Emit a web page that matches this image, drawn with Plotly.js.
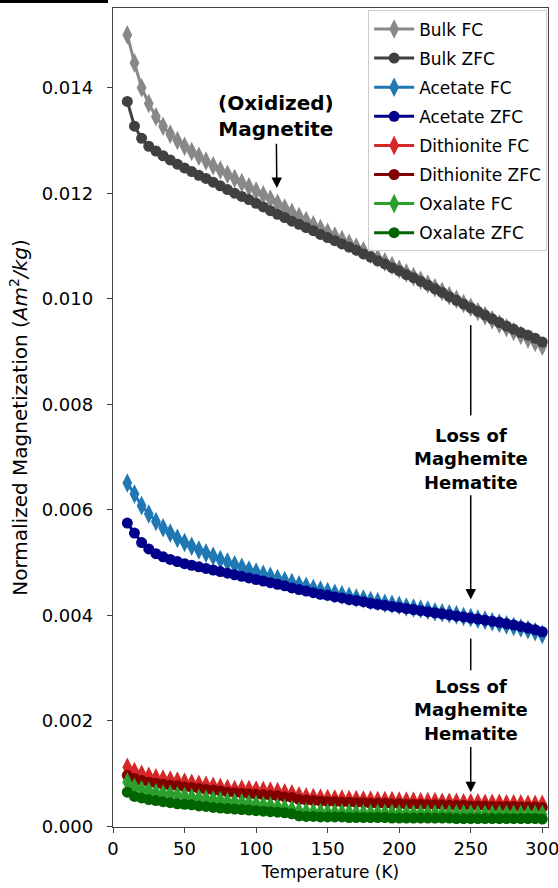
<!DOCTYPE html>
<html>
<head>
<meta charset="utf-8">
<script src="https://cdn.plot.ly/plotly-3.0.1.min.js"></script>
<style>html,body{margin:0;padding:0;background:#fff;}#chart{width:558px;height:888px;}</style>
</head>
<body>
<div id="chart"></div>
<script>
const temperature = [10,15,20,25,30,35,40,45,50,55,60,65,70,75,80,85,90,95,100,105,110,115,120,125,130,135,140,145,150,155,160,165,170,175,180,185,190,195,200,205,210,215,220,225,230,235,240,245,250,255,260,265,270,275,280,285,290,295,300];

const bulkFC = [0.01500,0.01447,0.01400,0.01370,0.01345,0.01327,0.01312,0.01300,0.01289,0.01279,0.01270,0.01261,0.01252,0.01244,0.01236,0.01228,0.01220,0.01212,0.01204,0.01197,0.01189,0.01181,0.01172,0.01164,0.01156,0.01148,0.01140,0.01133,0.01126,0.01119,0.01112,0.01105,0.01098,0.01091,0.01084,0.01077,0.01070,0.01063,0.01056,0.01049,0.01042,0.01035,0.01028,0.01021,0.01014,0.01006,0.00999,0.00991,0.00984,0.00976,0.00968,0.00960,0.00952,0.00945,0.00938,0.00931,0.00924,0.00917,0.00910];
const bulkZFC = [0.01374,0.01327,0.01304,0.01289,0.01280,0.01271,0.01263,0.01255,0.01248,0.01241,0.01234,0.01228,0.01221,0.01214,0.01207,0.01200,0.01194,0.01188,0.01181,0.01174,0.01167,0.01160,0.01154,0.01147,0.01141,0.01135,0.01129,0.01122,0.01116,0.01110,0.01104,0.01098,0.01092,0.01085,0.01079,0.01072,0.01066,0.01059,0.01053,0.01046,0.01040,0.01033,0.01026,0.01019,0.01012,0.01004,0.00997,0.00990,0.00983,0.00976,0.00969,0.00962,0.00955,0.00948,0.00942,0.00936,0.00931,0.00925,0.00918];
const acetateFC = [0.00651,0.00630,0.00608,0.00592,0.00578,0.00566,0.00556,0.00546,0.00538,0.00531,0.00524,0.00518,0.00512,0.00506,0.00501,0.00496,0.00491,0.00486,0.00482,0.00478,0.00474,0.00470,0.00466,0.00462,0.00458,0.00455,0.00451,0.00448,0.00445,0.00442,0.00439,0.00436,0.00433,0.00431,0.00428,0.00426,0.00423,0.00421,0.00419,0.00416,0.00414,0.00412,0.00410,0.00407,0.00405,0.00403,0.00401,0.00398,0.00396,0.00393,0.00391,0.00388,0.00385,0.00382,0.00379,0.00376,0.00373,0.00369,0.00364];
const acetateZFC = [0.00575,0.00556,0.00538,0.00526,0.00517,0.00511,0.00506,0.00502,0.00498,0.00495,0.00492,0.00489,0.00486,0.00483,0.00480,0.00477,0.00474,0.00471,0.00468,0.00465,0.00462,0.00459,0.00456,0.00452,0.00449,0.00446,0.00443,0.00440,0.00438,0.00435,0.00433,0.00430,0.00428,0.00426,0.00423,0.00421,0.00419,0.00417,0.00415,0.00413,0.00411,0.00409,0.00407,0.00405,0.00403,0.00401,0.00399,0.00397,0.00395,0.00393,0.00391,0.00389,0.00387,0.00384,0.00382,0.00379,0.00376,0.00373,0.00369];
const dithioniteFC = [0.00112,0.00104,0.00099,0.00095,0.00092,0.00090,0.00088,0.00086,0.00084,0.00082,0.00080,0.00078,0.00076,0.00074,0.00072,0.00070,0.00071,0.00070,0.00069,0.00068,0.00067,0.00066,0.00064,0.00062,0.00058,0.00056,0.00055,0.00054,0.00053,0.00052,0.00052,0.00051,0.00051,0.00050,0.00050,0.00049,0.00049,0.00049,0.00048,0.00048,0.00048,0.00047,0.00047,0.00047,0.00046,0.00046,0.00046,0.00045,0.00045,0.00045,0.00044,0.00044,0.00044,0.00043,0.00043,0.00043,0.00042,0.00042,0.00042];
const dithioniteZFC = [0.00097,0.00091,0.00087,0.00084,0.00082,0.00080,0.00078,0.00077,0.00075,0.00074,0.00072,0.00070,0.00069,0.00067,0.00065,0.00064,0.00063,0.00062,0.00061,0.00060,0.00059,0.00058,0.00056,0.00055,0.00051,0.00050,0.00049,0.00048,0.00047,0.00047,0.00046,0.00046,0.00045,0.00045,0.00044,0.00044,0.00044,0.00043,0.00043,0.00042,0.00042,0.00042,0.00041,0.00041,0.00041,0.00040,0.00040,0.00040,0.00039,0.00039,0.00039,0.00038,0.00038,0.00038,0.00038,0.00037,0.00037,0.00037,0.00036];
const oxalateFC = [0.00084,0.00074,0.00070,0.00067,0.00064,0.00062,0.00061,0.00059,0.00057,0.00055,0.00054,0.00052,0.00050,0.00049,0.00047,0.00046,0.00045,0.00043,0.00042,0.00040,0.00039,0.00037,0.00035,0.00032,0.00029,0.00028,0.00027,0.00027,0.00026,0.00026,0.00026,0.00026,0.00025,0.00025,0.00025,0.00025,0.00025,0.00025,0.00024,0.00024,0.00024,0.00024,0.00024,0.00024,0.00024,0.00024,0.00024,0.00024,0.00024,0.00023,0.00023,0.00023,0.00023,0.00023,0.00023,0.00023,0.00023,0.00023,0.00023];
const oxalateZFC = [0.00065,0.00057,0.00054,0.00051,0.00049,0.00047,0.00045,0.00043,0.00042,0.00041,0.00039,0.00038,0.00036,0.00035,0.00034,0.00033,0.00032,0.00031,0.00030,0.00029,0.00028,0.00027,0.00026,0.00024,0.00020,0.00019,0.00019,0.00018,0.00018,0.00018,0.00018,0.00017,0.00017,0.00017,0.00017,0.00017,0.00017,0.00016,0.00016,0.00016,0.00016,0.00016,0.00016,0.00016,0.00016,0.00016,0.00015,0.00015,0.00015,0.00015,0.00015,0.00015,0.00015,0.00015,0.00015,0.00015,0.00015,0.00015,0.00014];

const seriesNames = ['Bulk FC','Bulk ZFC','Acetate FC','Acetate ZFC','Dithionite FC','Dithionite ZFC','Oxalate FC','Oxalate ZFC'];
const seriesValues = [bulkFC,bulkZFC,acetateFC,acetateZFC,dithioniteFC,dithioniteZFC,oxalateFC,oxalateZFC];
const seriesColors = ['#888888','#404040','#1f77b4','#00008b','#d62728','#800000','#2ca02c','#006400'];
const xTicks = [0,50,100,150,200,250,300];
const yTicks = [0,0.002,0.004,0.006,0.008,0.010,0.012,0.014];

const traces = seriesNames.map((name,i) => {
  const isFC = name.endsWith(' FC');
  return {
    x: temperature, y: seriesValues[i], name: name, type: 'scatter', mode: 'lines+markers',
    legendgroup: 'g'+i,
    line: {color: seriesColors[i], width: 3},
    marker: {color: seriesColors[i], symbol: isFC ? 'diamond-tall' : 'circle', size: isFC ? 14 : 11}
  };
});

const font = 'DejaVu Sans, Verdana, sans-serif';
const boldBig = {family: font, size: 20, color: '#000'};
const boldMid = {family: font, size: 18, color: '#000'};
const arrowStyle = {showarrow: true, arrowhead: 2, arrowsize: 1.4, arrowwidth: 1.5, arrowcolor: '#000', axref: 'x', ayref: 'y', xref: 'x', yref: 'y', align: 'center', borderpad: 2};
const layout = {
  width: 558, height: 888,
  margin: {l: 113, r: 10, t: 8, b: 61},
  paper_bgcolor: '#fff', plot_bgcolor: '#fff',
  font: {family: font, size: 16, color: '#000'},
  showlegend: true,
  legend: {x: 0.998, xanchor: 'right', y: 0.997, yanchor: 'top', bgcolor: 'rgba(255,255,255,0.9)',
    bordercolor: '#cccccc', borderwidth: 1, font: {family: font, size: 17, color: '#000'},
    traceorder: 'grouped', tracegroupgap: 4, itemwidth: 40},
  xaxis: {range: [0, 304], tickvals: xTicks, ticks: 'outside', ticklen: 5, tickcolor: '#444',
    showline: true, linecolor: '#444', linewidth: 1.2, mirror: true, showgrid: false, zeroline: false,
    ticklabeloverflow: 'allow',
    title: {text: 'Temperature (K)', font: {family: font, size: 17}, standoff: 8},
    tickfont: {family: font, size: 18}},
  yaxis: {range: [-0.00001, 0.01551], tickvals: yTicks, tickformat: '.3f', ticks: 'outside', ticklen: 5, tickcolor: '#444',
    showline: true, linecolor: '#444', linewidth: 1.2, mirror: true, showgrid: false, zeroline: false,
    ticklabelstandoff: 10, ticklabeloverflow: 'allow',
    title: {text: 'Normalized Magnetization (<i>Am</i><sup>2</sup><i>/kg</i>)', font: {family: font, size: 20}, standoff: 8},
    tickfont: {family: font, size: 18}},
  shapes: [
    {type: 'rect', xref: 'paper', yref: 'paper', x0: -0.26, x1: -0.0115, y0: 1.0061, y1: 1.011, fillcolor: '#000', line: {width: 0}},
    {type: 'line', xref: 'x', yref: 'y', x0: 250, x1: 250, y0: 0.00950, y1: 0.00779, line: {color: '#000', width: 1.5}},
    {type: 'line', xref: 'x', yref: 'y', x0: 250, x1: 250, y0: 0.00356, y1: 0.00296, line: {color: '#000', width: 1.5}}
  ],
  annotations: [
    Object.assign({x: 114.5, y: 0.01210, ax: 114, ay: 0.01346, text: '<b>(Oxidized)</b><br><b>Magnetite</b>', font: boldBig}, arrowStyle),
    Object.assign({x: 250, y: 0.00430, ax: 250, ay: 0.00697, text: '<b>Loss of</b><br><b>Maghemite</b><br><b>Hematite</b>', font: boldMid}, arrowStyle),
    Object.assign({x: 250, y: 0.00065, ax: 250, ay: 0.00220, text: '<b>Loss of</b><br><b>Maghemite</b><br><b>Hematite</b>', font: boldMid}, arrowStyle)
  ]
};
Plotly.newPlot('chart', traces, layout, {displayModeBar: false, staticPlot: true});
</script>
</body>
</html>
